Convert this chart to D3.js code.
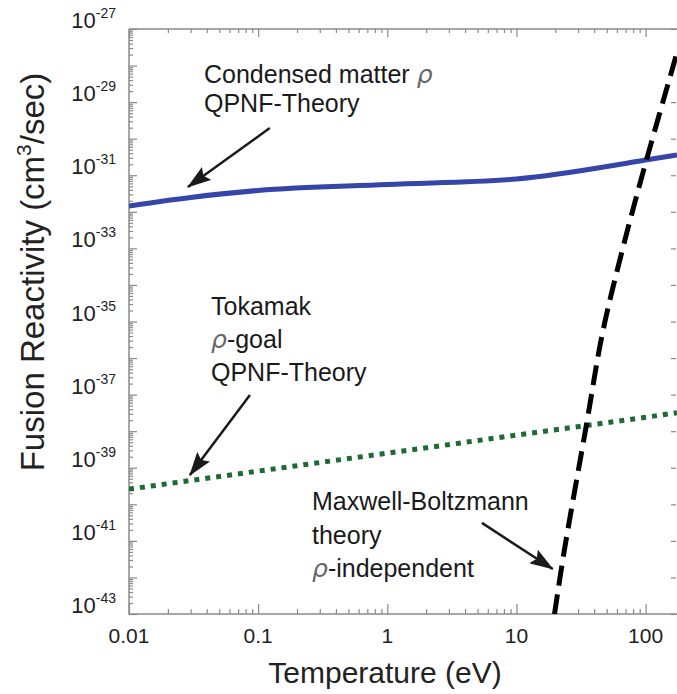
<!DOCTYPE html>
<html>
<head>
<meta charset="utf-8">
<script src="https://cdn.jsdelivr.net/npm/d3@7"></script>
<style>
  html, body { margin: 0; padding: 0; background: #fff; }
  svg { display: block; font-family: "Liberation Sans", Arial, sans-serif; }
</style>
</head>
<body>
<svg id="chart" width="677" height="694"></svg>
<script>
// ---------- data ----------
const xTickValues = [0.01, 0.1, 1, 10, 100];
const xTickLabels = ["0.01", "0.1", "1", "10", "100"];
const yTickExponents = [-27, -29, -31, -33, -35, -37, -39, -41, -43];

// Condensed matter rho, QPNF theory (blue solid)
const condensedT = [0.01, 0.03, 0.1, 1, 10, 100, 175];
const condensedR = [1.45e-32, 2.47e-32, 3.84e-32, 5.6e-32, 7.9e-32, 2.6e-31, 3.6e-31];

// Tokamak rho-goal, QPNF theory (green dotted)
const tokamakT = [0.01, 0.1, 1, 10, 100, 175];
const tokamakR = [2.6e-40, 8.1e-40, 2.5e-39, 7.8e-39, 2.4e-38, 3.2e-38];

// Maxwell-Boltzmann theory (black dashed)
const mbT = [19.7, 23.5, 34.8, 46.4, 66.1, 101, 173];
const mbR = [1.0e-43, 5.6e-42, 1.48e-38, 4.9e-36, 9.1e-34, 2.45e-31, 1.95e-28];

// annotation arrows: [tailT, tailR, tipT, tipR]
const arrowCondensed = [0.123, 1.95e-30, 0.0286, 4.8e-32];
const arrowTokamak = [0.0864, 9.8e-38, 0.0296, 6.3e-40];
const arrowMB = [5.4, 3.1e-41, 19.1, 1.7e-42];

// ---------- layout ----------
const L = 129, R = 677, T = 29, B = 614;
const svg = d3.select("#chart");

const x = d3.scaleLog().domain([0.01, 175]).range([L, R]);
const y = d3.scaleLog().domain([1e-43, 1e-27]).range([B, T]);

const axisColor = "#8a8a8a";

// minor tick values
const xMinor = [];
for (let e = -2; e <= 2; e++) for (let m = 2; m <= 9; m++) {
  const v = m * Math.pow(10, e);
  if (v < 175) xMinor.push(v);
}
const yMajor = d3.range(-43, -26).map(e => Math.pow(10, e));
const yMinor = [];
for (let e = -43; e < -27; e++) for (let m = 2; m <= 9; m++) yMinor.push(m * Math.pow(10, e));

function styleAxis(g) {
  g.select(".domain").remove();
  g.selectAll(".tick line").attr("stroke", axisColor).attr("stroke-width", 1.2);
  g.selectAll(".tick text").remove();
}

// bottom axis ticks (inward)
svg.append("g").attr("transform", `translate(0,${B})`)
  .call(d3.axisBottom(x).tickValues(xMinor).tickSize(-5).tickFormat("")).call(styleAxis);
svg.append("g").attr("transform", `translate(0,${B})`)
  .call(d3.axisBottom(x).tickValues(xTickValues).tickSize(-10).tickFormat("")).call(styleAxis);
// top axis ticks
svg.append("g").attr("transform", `translate(0,${T})`)
  .call(d3.axisTop(x).tickValues(xMinor).tickSize(-4).tickFormat("")).call(styleAxis);
svg.append("g").attr("transform", `translate(0,${T})`)
  .call(d3.axisTop(x).tickValues(xTickValues).tickSize(-8).tickFormat("")).call(styleAxis);
// left axis ticks
svg.append("g").attr("transform", `translate(${L},0)`)
  .call(d3.axisLeft(y).tickValues(yMinor).tickSize(-4).tickFormat("")).call(styleAxis);
svg.append("g").attr("transform", `translate(${L},0)`)
  .call(d3.axisLeft(y).tickValues(yMajor).tickSize(-8).tickFormat("")).call(styleAxis);
// right axis ticks
svg.append("g").attr("transform", `translate(${R - 1},0)`)
  .call(d3.axisRight(y).tickValues(yMajor).tickSize(-5).tickFormat("")).call(styleAxis);

// frame
svg.append("path")
  .attr("d", `M${L},${T} L${R},${T} M${L},${T} L${L},${B} L${R},${B}`)
  .attr("fill", "none").attr("stroke", axisColor).attr("stroke-width", 1.5);

// x tick labels
svg.append("g").selectAll("text").data(xTickValues).join("text")
  .attr("x", d => x(d)).attr("y", B + 29)
  .attr("text-anchor", "middle")
  .attr("font-size", 21).attr("fill", "#222")
  .text((d, i) => xTickLabels[i]);

// y tick labels
const yl = svg.append("g").selectAll("text").data(yTickExponents).join("text")
  .attr("x", 116).attr("y", d => y(Math.pow(10, d)) - 1)
  .attr("text-anchor", "end").attr("fill", "#222");
yl.append("tspan").attr("font-size", 22).text("10");
yl.append("tspan").attr("font-size", 14).attr("dy", -10).text(d => String(d));

// axis titles
svg.append("text")
  .attr("x", 385).attr("y", 683)
  .attr("text-anchor", "middle").attr("font-size", 30).attr("fill", "#222")
  .text("Temperature (eV)");
const yt = svg.append("text")
  .attr("transform", "translate(44,272) rotate(-90)")
  .attr("text-anchor", "middle").attr("font-size", 33).attr("fill", "#222");
yt.append("tspan").text("Fusion Reactivity (cm");
yt.append("tspan").attr("font-size", 21).attr("dy", -13).text("3");
yt.append("tspan").attr("dy", 13).text("/sec)");

// clip
svg.append("clipPath").attr("id", "plotclip")
  .append("rect").attr("x", L).attr("y", T).attr("width", R - L).attr("height", B - T);
const plot = svg.append("g").attr("clip-path", "url(#plotclip)");

const line = d3.line().x(d => x(d[0])).y(d => y(d[1]));

plot.append("path")
  .datum(tokamakT.map((t, i) => [t, tokamakR[i]]))
  .attr("d", line).attr("fill", "none")
  .attr("stroke", "#1d6a35").attr("stroke-width", 5)
  .attr("stroke-dasharray", "5,6");

plot.append("path")
  .datum(condensedT.map((t, i) => [t, condensedR[i]]))
  .attr("d", line.curve(d3.curveMonotoneX)).attr("fill", "none")
  .attr("stroke", "#3545a8").attr("stroke-width", 5)
  .attr("stroke-linejoin", "round");

plot.append("path")
  .datum(mbT.map((t, i) => [t, mbR[i]]))
  .attr("d", d3.line().x(d => x(d[0])).y(d => y(d[1])).curve(d3.curveCatmullRom))
  .attr("fill", "none")
  .attr("stroke", "#000").attr("stroke-width", 5)
  .attr("stroke-dasharray", "20,9");

// arrows
const defs = svg.append("defs");
defs.append("marker").attr("id", "ah")
  .attr("markerUnits", "userSpaceOnUse")
  .attr("viewBox", "0 0 24 16").attr("refX", 23).attr("refY", 8)
  .attr("markerWidth", 24).attr("markerHeight", 16).attr("orient", "auto")
  .append("path").attr("d", "M0,0 L24,8 L0,16 L4,8 Z").attr("fill", "#1a1a1a");

[arrowCondensed, arrowTokamak, arrowMB].forEach(a => {
  svg.append("line")
    .attr("x1", x(a[0])).attr("y1", y(a[1]))
    .attr("x2", x(a[2])).attr("y2", y(a[3]))
    .attr("stroke", "#1a1a1a").attr("stroke-width", 2.5)
    .attr("marker-end", "url(#ah)");
});

// annotation texts
const ann = svg.append("g").attr("font-size", 25).attr("fill", "#1a1a1a");
function rho(sel) {
  sel.append("tspan").attr("font-style", "italic").attr("fill", "#666")
    .attr("font-family", "'DejaVu Sans', sans-serif").attr("font-weight", 300).text("ρ");
}
const t1 = ann.append("text").attr("x", 204).attr("y", 83);
t1.append("tspan").text("Condensed matter ");
rho(t1);
ann.append("text").attr("x", 204).attr("y", 112).text("QPNF-Theory");

ann.append("text").attr("x", 211).attr("y", 315).text("Tokamak");
const t2 = ann.append("text").attr("x", 211).attr("y", 348);
rho(t2); t2.append("tspan").text("-goal");
ann.append("text").attr("x", 211).attr("y", 381).text("QPNF-Theory");

ann.append("text").attr("x", 312).attr("y", 510).text("Maxwell-Boltzmann");
ann.append("text").attr("x", 312).attr("y", 544).text("theory");
const t3 = ann.append("text").attr("x", 312).attr("y", 577);
rho(t3); t3.append("tspan").text("-independent");
</script>
</body>
</html>
